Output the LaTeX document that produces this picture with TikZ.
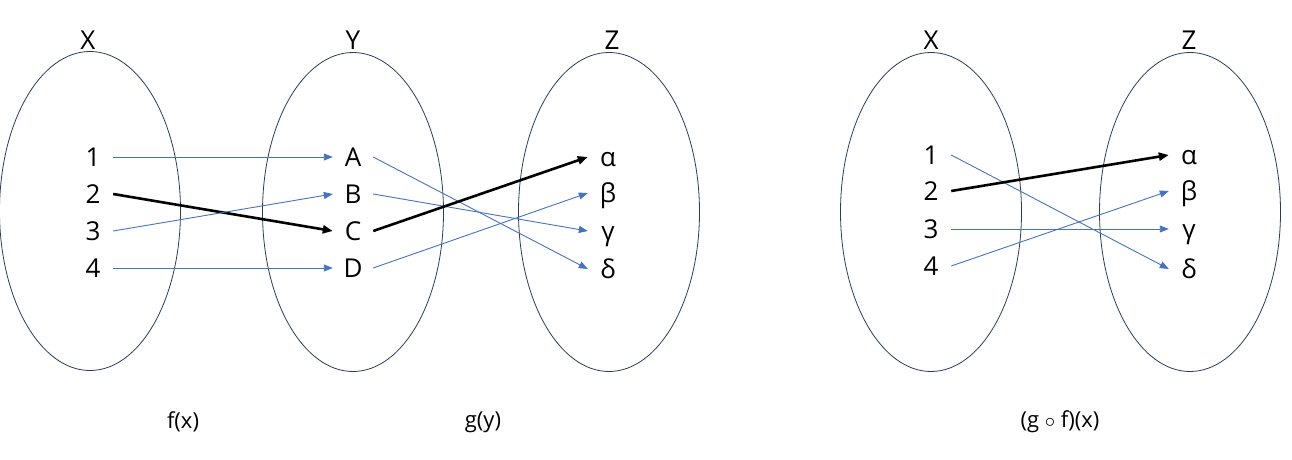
\documentclass[tikz,border=0pt]{standalone}
\usepackage{fontspec}
\setmainfont{Open Sans}
\usetikzlibrary{positioning,arrows.meta,shapes.geometric}
\definecolor{SetLine}{RGB}{44,58,92}
\definecolor{MapBlue}{RGB}{68,114,196}

\begin{document}
\begin{tikzpicture}[x=1pt, y=-1pt, font=\fontsize{26}{30}\selectfont,
    set/.style={draw=SetLine, line width=0.8pt, ellipse, minimum width=181pt,
      minimum height=319pt, inner sep=0pt},
    elem/.style={minimum width=40pt, inner sep=0pt, text height=18.5pt, text depth=0pt},
    map/.style={-{Triangle[length=9pt,width=7pt]}, MapBlue, line width=0.9pt},
    pick/.style={-{Triangle[length=10pt,width=8pt]}, black, line width=2.6pt},
    caption/.style={font=\fontsize{22}{26}\selectfont}]
  \useasboundingbox (0,0) rectangle (1292,460);
  % sets
  \node[set] (sx) at (90,211) {};
  \node[set] (sy) at (353,212) {};
  \node[set] (sz) at (609,212) {};
  \node[set] (tx) at (931,212) {};
  \node[set] (tz) at (1190,212) {};
  \node[elem] (lx) at (88,40) {X};
  \node[elem] (ly) at (353,40) {Y};
  \node[elem] (lz) at (612,40) {Z};
  \node[elem] (mx) at (931,40) {X};
  \node[elem] (mz) at (1189,40) {Z};
  % elements
  \foreach \t/\y [count=\i] in {1/157,2/194,3/231,4/268} {
    \node[elem] (x\i) at (93,\y) {\t};
  }
  \foreach \t/\y [count=\i] in {A/157,B/194,C/231,D/268} {
    \node[elem] (y\i) at (353,\y) {\t};
  }
  \foreach \t/\y [count=\i] in {α/157,β/193,γ/231,δ/269} {
    \node[elem] (z\i) at (608,\y) {\t};
  }
  \foreach \t/\y [count=\i] in {1/155,2/191,3/229,4/266} {
    \node[elem] (u\i) at (931,\y) {\t};
  }
  \foreach \t/\y [count=\i] in {α/155,β/191,γ/229,δ/269} {
    \node[elem] (w\i) at (1189,\y) {\t};
  }
  % f
  \draw[map] (x1.east) -- (y1.west);
  \draw[pick] (x2.east) -- (y3.west);
  \draw[map] (x3.east) -- (y2.west);
  \draw[map] (x4.east) -- (y4.west);
  % g
  \draw[map] (y1.east) -- (z4.west);
  \draw[map] (y2.east) -- (z3.west);
  \draw[pick] (y3.east) -- (z1.west);
  \draw[map] (y4.east) -- (z2.west);
  % g o f
  \draw[map] (u1.east) -- (w4.west);
  \draw[pick] (u2.east) -- (w1.west);
  \draw[map] (u3.east) -- (w3.west);
  \draw[map] (u4.east) -- (w2.west);
  % captions
  \node[caption] (cf) at (183,422) {f(x)};
  \node[caption] (cg) at (483,422) {g(y)};
  \node[caption] (cgf) at (1060,422) {(g $\circ$ f)(x)};
\end{tikzpicture}
\end{document}
